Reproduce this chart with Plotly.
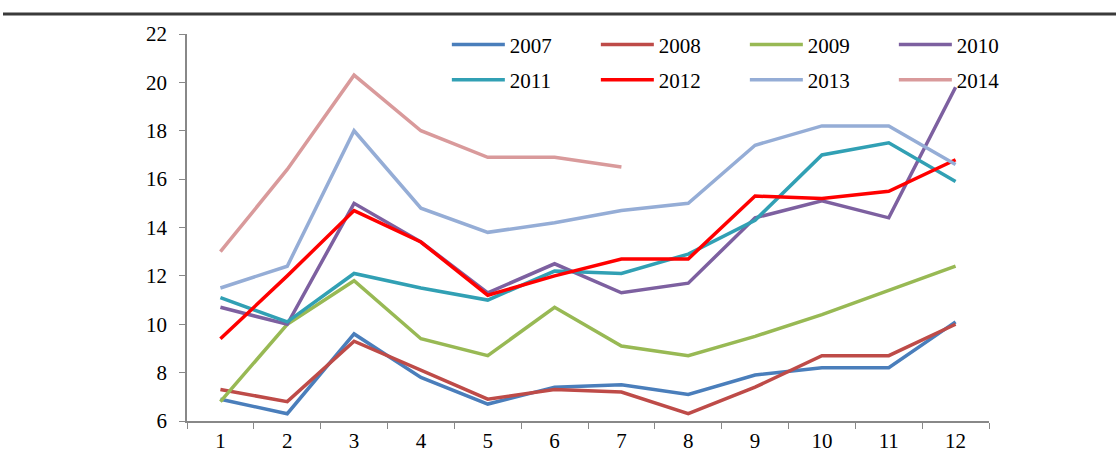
import plotly.graph_objects as go

months = ["1", "2", "3", "4", "5", "6", "7", "8", "9", "10", "11", "12"]

y2007 = [6.9, 6.3, 9.6, 7.8, 6.7, 7.4, 7.5, 7.1, 7.9, 8.2, 8.2, 10.1]
y2008 = [7.3, 6.8, 9.3, 8.1, 6.9, 7.3, 7.2, 6.3, 7.4, 8.7, 8.7, 10.0]
y2009 = [6.8, 10.0, 11.8, 9.4, 8.7, 10.7, 9.1, 8.7, 9.5, 10.4, 11.4, 12.4]
y2010 = [10.7, 10.0, 15.0, 13.4, 11.3, 12.5, 11.3, 11.7, 14.4, 15.1, 14.4, 19.8]
y2011 = [11.1, 10.1, 12.1, 11.5, 11.0, 12.2, 12.1, 12.9, 14.3, 17.0, 17.5, 15.9]
y2012 = [9.4, 12.0, 14.7, 13.4, 11.2, 12.0, 12.7, 12.7, 15.3, 15.2, 15.5, 16.8]
y2013 = [11.5, 12.4, 18.0, 14.8, 13.8, 14.2, 14.7, 15.0, 17.4, 18.2, 18.2, 16.6]
y2014 = [13.0, 16.4, 20.3, 18.0, 16.9, 16.9, 16.5]

series = [
    ("2007", y2007, "#4A7EBB", "legend"),
    ("2008", y2008, "#BE4B48", "legend"),
    ("2009", y2009, "#98B954", "legend"),
    ("2010", y2010, "#7D60A0", "legend"),
    ("2011", y2011, "#31A0B4", "legend2"),
    ("2012", y2012, "#FF0000", "legend2"),
    ("2013", y2013, "#95ADD6", "legend2"),
    ("2014", y2014, "#D99A9B", "legend2"),
]

FONT = "Liberation Serif"

fig = go.Figure()
for name, vals, color, leg in series:
    fig.add_trace(go.Scatter(
        x=months[:len(vals)], y=vals, name=name, mode="lines",
        line=dict(color=color, width=3.5), legend=leg,
    ))

legend_common = dict(
    orientation="h", xanchor="left", yanchor="middle",
    bgcolor="rgba(255,255,255,0)", borderwidth=0,
    font=dict(family=FONT, size=21, color="#000000"),
    entrywidth=81, entrywidthmode="pixels", itemwidth=53,
    traceorder="normal",
)

fig.update_layout(
    width=1116, height=467,
    margin=dict(l=187, r=127, t=34, b=46),
    paper_bgcolor="white", plot_bgcolor="white",
    showlegend=True,
    legend=dict(x=0.324, y=0.972, **legend_common),
    legend2=dict(x=0.324, y=0.881, **legend_common),
    xaxis=dict(
        type="category", categoryorder="array", categoryarray=months,
        range=[-0.5, 11.5],
        showgrid=False, zeroline=False,
        showline=True, linecolor="#888888", linewidth=1.5,
        ticks="outside", tickson="boundaries", ticklen=6, tickcolor="#888888",
        tickfont=dict(family=FONT, size=21, color="#000000"),
    ),
    yaxis=dict(
        range=[6, 22], dtick=2, tick0=6,
        showgrid=False, zeroline=False,
        showline=True, linecolor="#888888", linewidth=1.5,
        ticks="outside", ticklen=6, tickcolor="#888888",
        ticklabelstandoff=8,
        tickfont=dict(family=FONT, size=21, color="#000000"),
    ),
    shapes=[dict(
        type="line", xref="paper", yref="paper",
        x0=(3 - 187) / 802, x1=(1116 - 187) / 802,
        y0=(421 - 14) / 387, y1=(421 - 14) / 387,
        line=dict(color="#3a3a3a", width=3),
    )],
)

fig.write_html("out.html")
